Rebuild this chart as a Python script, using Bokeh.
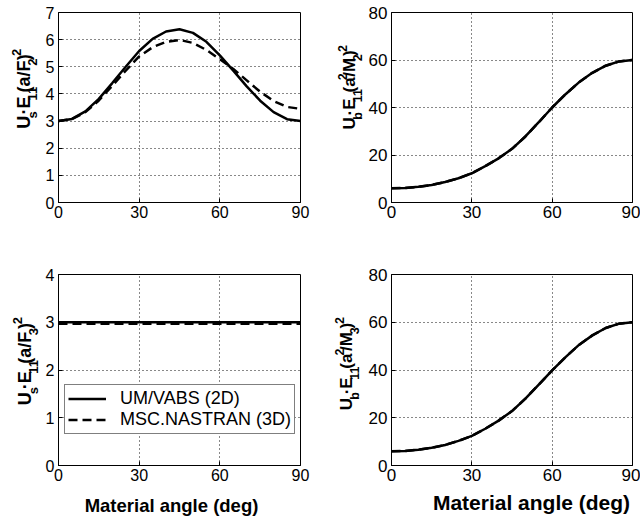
from math import pi
from bokeh.plotting import figure
from bokeh.models import Range1d, FixedTicker, Label, Legend, LegendItem
from bokeh.layouts import row, column
from bokeh.embed import file_html
from bokeh.resources import INLINE

# ---------------- data ----------------
angle = [0, 5, 10, 15, 20, 25, 30, 35, 40, 45, 50, 55, 60, 65, 70, 75, 80, 85, 90]

us2_vabs = [3.00, 3.08, 3.36, 3.82, 4.40, 5.00, 5.58, 6.03, 6.30, 6.38, 6.25, 5.92,
            5.42, 4.86, 4.28, 3.75, 3.33, 3.07, 3.00]
us2_nastran = [3.00, 3.07, 3.33, 3.76, 4.30, 4.86, 5.38, 5.72, 5.92, 5.99, 5.88, 5.62,
               5.28, 4.92, 4.50, 4.08, 3.74, 3.52, 3.45]

ub2_vabs = [6.0, 6.1, 6.6, 7.4, 8.6, 10.2, 12.3, 15.3, 18.6, 22.6, 27.8, 33.8,
            40.0, 45.6, 50.6, 54.6, 57.6, 59.4, 60.0]
ub2_nastran = [6.0, 6.1, 6.6, 7.4, 8.6, 10.2, 12.3, 15.3, 18.6, 22.6, 27.8, 33.8,
               40.0, 45.6, 50.6, 54.6, 57.6, 59.4, 60.0]

us3_vabs = [3.00, 3.00, 3.00, 3.00, 3.00, 3.00, 3.00, 3.00, 3.00, 3.00, 3.00, 3.00,
            3.00, 3.00, 3.00, 3.00, 3.00, 3.00, 3.00]
us3_nastran = [2.97, 2.97, 2.97, 2.97, 2.97, 2.97, 2.97, 2.97, 2.97, 2.97, 2.97, 2.97,
               2.97, 2.97, 2.97, 2.97, 2.97, 2.97, 2.97]

ub3_vabs = [6.0, 6.1, 6.6, 7.4, 8.6, 10.3, 12.4, 15.4, 18.8, 22.8, 28.0, 33.9,
            39.8, 45.4, 50.5, 54.5, 57.6, 59.4, 60.0]
ub3_nastran = [6.0, 6.1, 6.6, 7.4, 8.6, 10.3, 12.4, 15.4, 18.8, 22.8, 28.0, 33.9,
               39.8, 45.4, 50.5, 54.5, 57.6, 59.4, 60.0]

x_ticks = [0, 30, 60, 90]
us2_ticks = [0, 1, 2, 3, 4, 5, 6, 7]
ub_ticks = [0, 20, 40, 60, 80]
us3_ticks = [0, 1, 2, 3, 4]

legend_labels = ["UM/VABS (2D)", "MSC.NASTRAN (3D)"]
x_title = "Material angle (deg)"

# ---------------- styling helpers ----------------
FONT = "Liberation Sans"
# Arial/Liberation Sans Bold advance widths (em)
WID = {"U": .722, "s": .556, "b": .611, "\u00b7": .333, "E": .667, "1": .556,
       "(": .333, "a": .556, "/": .278, "F": .611, "M": .833, "2": .556,
       "3": .556, ")": .333}


def make_panel(w, h, ymax, yticks, left, right, top, bottom, tick_px):
    p = figure(width=w, height=h, x_range=Range1d(0, 90), y_range=Range1d(0, ymax),
               output_backend="svg", toolbar_location=None,
               min_border_left=left, min_border_right=right,
               min_border_top=top, min_border_bottom=bottom)
    p.background_fill_color = "white"
    p.border_fill_color = "white"
    p.outline_line_color = "black"
    p.outline_line_width = 1
    p.xaxis.ticker = FixedTicker(ticks=x_ticks)
    p.yaxis.ticker = FixedTicker(ticks=yticks)
    for ax in (p.xaxis, p.yaxis):
        ax.axis_line_color = "black"
        ax.major_tick_line_color = "black"
        ax.major_tick_in = 4
        ax.major_tick_out = 0
        ax.minor_tick_line_color = None
        ax.major_label_text_font = FONT
        ax.major_label_text_font_size = f"{tick_px}px"
        ax.major_label_text_color = "black"
    p.xaxis.major_label_standoff = 3
    p.yaxis.major_label_standoff = 4
    for g in (p.xgrid, p.ygrid):
        g.grid_line_color = "#111111"
        g.grid_line_dash = "1 3"
        g.grid_line_width = 1
    return p


def text_panel(w, h):
    """A blank strip whose frame is the whole canvas; coordinates = pixels."""
    t = figure(width=w, height=h, x_range=Range1d(0, w), y_range=Range1d(0, h),
               x_axis_type=None, y_axis_type=None, output_backend="svg",
               toolbar_location=None, min_border=0, min_border_left=0,
               min_border_right=0, min_border_top=0, min_border_bottom=0)
    t.outline_line_color = None
    t.background_fill_color = "white"
    t.border_fill_color = "white"
    t.xgrid.visible = False
    t.ygrid.visible = False
    return t


def add_curves(p, solid, dashed):
    r1 = p.line(angle, solid, line_color="black", line_width=2.5)
    r2 = p.line(angle, dashed, line_color="black", line_width=2.5, line_dash="9 5")
    return r1, r2


def ylabel_panel(w, h, pieces, base_x, center_y, main_px, sub_px):
    """Rotated y title built from pieces (normal / subscript / superscript).
    Each piece is centred on its own box; base_x is the main baseline."""
    t = text_panel(w, h)
    sizes = {"n": main_px, "sub": sub_px, "sup": sub_px}
    total = sum(sum(WID[c] for c in s) * sizes[k] for s, k in pieces)
    pos = center_y - total / 2.0
    for s, k in pieces:
        size = sizes[k]
        adv = sum(WID[c] for c in s) * size
        shift = 0.0
        if k == "sub":
            shift = 0.38 * main_px
        elif k == "sup":
            shift = -0.5 * main_px
        cx = base_x + shift - 0.35 * size
        t.add_layout(Label(x=cx, y=pos + adv / 2.0, text=s, angle=pi / 2,
                           text_align="center", text_baseline="middle",
                           text_font=FONT, text_font_style="bold",
                           text_font_size=f"{size}px", text_color="black"))
        pos += adv
    return t


def xlabel_panel(w, h, cx, cy, px):
    t = text_panel(w, h)
    t.add_layout(Label(x=cx, y=cy, text=x_title, text_align="center",
                       text_baseline="middle", text_font=FONT, text_font_style="bold",
                       text_font_size=f"{px}px", text_color="black"))
    return t


# top-left
p1 = make_panel(280, 258, 7, us2_ticks, 18, 20, 12, 56, 16)
add_curves(p1, us2_vabs, us2_nastran)
yl1 = ylabel_panel(40, 258, [("U", "n"), ("s", "sub"), ("\u00b7E", "n"), ("11", "sub"),
                             ("(a/F", "n"), ("2", "sub"), (")", "n"), ("2", "sup")],
                   30, 155, 18, 13)

# top-right
p2 = make_panel(275, 258, 80, ub_ticks, 26, 8, 12, 56, 17)
add_curves(p2, ub2_vabs, ub2_nastran)
yl2 = ylabel_panel(45, 258, [("U", "n"), ("b", "sub"), ("\u00b7E", "n"), ("11", "sub"),
                             ("(a", "n"), ("2", "sup"), ("/M", "n"), ("2", "sub"),
                             (")", "n"), ("2", "sup")],
                   35, 157, 17, 12.5)

# bottom-left
p3 = make_panel(280, 232, 4, us3_ticks, 18, 20, 16, 25, 16)
r1, r2 = add_curves(p3, us3_vabs, us3_nastran)
yl3 = ylabel_panel(40, 232, [("U", "n"), ("s", "sub"), ("\u00b7E", "n"), ("11", "sub"),
                             ("(a/F", "n"), ("3", "sub"), (")", "n"), ("2", "sup")],
                   31, 127, 18, 13)
xt3 = xlabel_panel(320, 26, 171, 11, 18.5)
legend = Legend(items=[LegendItem(label=legend_labels[0], renderers=[r1]),
                       LegendItem(label=legend_labels[1], renderers=[r2])],
                location=(6, 31), orientation="vertical")
legend.border_line_color = "black"
legend.border_line_width = 1
legend.background_fill_color = "white"
legend.background_fill_alpha = 1
legend.label_text_font = FONT
legend.label_text_font_size = "18px"
legend.label_text_line_height = 1.0
legend.label_text_color = "black"
legend.glyph_width = 38
legend.glyph_height = 19
legend.label_height = 19
legend.spacing = 0
legend.padding = 3
legend.margin = 0
legend.label_standoff = 14
p3.add_layout(legend)

# bottom-right
p4 = make_panel(275, 232, 80, ub_ticks, 26, 8, 16, 25, 17)
add_curves(p4, ub3_vabs, ub3_nastran)
yl4 = ylabel_panel(45, 232, [("U", "n"), ("b", "sub"), ("\u00b7E", "n"), ("11", "sub"),
                             ("(a", "n"), ("2", "sup"), ("/M", "n"), ("3", "sub"),
                             (")", "n"), ("2", "sup")],
                   32, 124, 17, 12.5)
xt4 = xlabel_panel(320, 26, 211, 14, 21)

top = row(yl1, p1, yl2, p2, spacing=0)
bottom = row(column(row(yl3, p3, spacing=0), xt3, spacing=0),
             column(row(yl4, p4, spacing=0), xt4, spacing=0), spacing=0)
layout = column(top, bottom, spacing=0)

with open("out.html", "w") as f:
    f.write(file_html(layout, INLINE))
